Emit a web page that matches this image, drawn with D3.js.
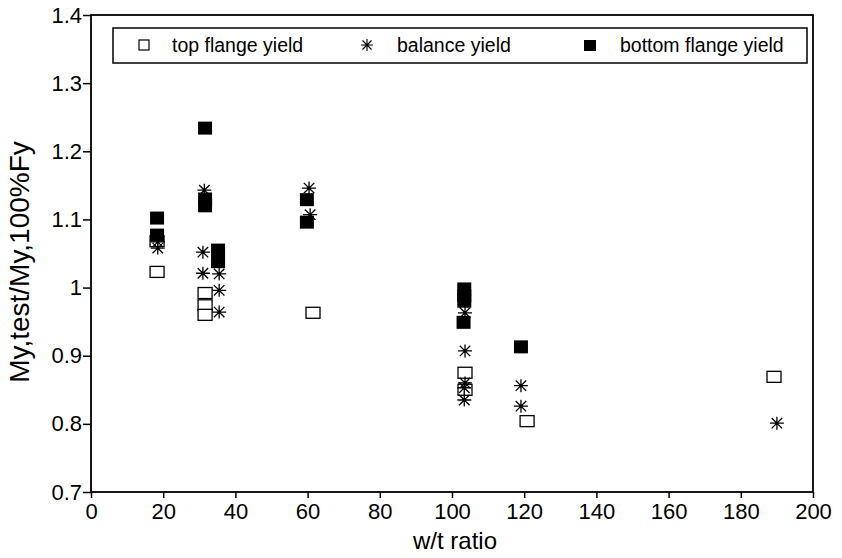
<!DOCTYPE html>
<html>
<head>
<meta charset="utf-8">
<script src="https://cdn.jsdelivr.net/npm/d3@7"></script>
<style>
  body { margin: 0; background: #fff; }
  svg { font-family: "Liberation Sans", Arial, sans-serif; }
</style>
</head>
<body>
<div id="chart"></div>
<script>
// data: [w/t ratio, My,test/My,100%Fy]
const topFlange = [
    [18.3, 1.068], [18.3, 1.023],
    [31.6, 0.992], [31.6, 0.974], [31.6, 0.960],
    [61.5, 0.963],
    [103.6, 0.875], [103.6, 0.850],
    [120.8, 0.804],
    [189.2, 0.869]
];
const balance = [
    [18.5, 1.067], [18.5, 1.058],
    [31.4, 1.143], [31.0, 1.052], [31.0, 1.021],
    [35.5, 1.020], [35.5, 0.996], [35.5, 0.964],
    [60.4, 1.146], [60.7, 1.107],
    [103.6, 0.963], [103.6, 0.907], [103.6, 0.860], [103.4, 0.853], [103.4, 0.835],
    [119.1, 0.856], [119.1, 0.826],
    [190.0, 0.801]
];
const bottomFlange = [
    [18.3, 1.102], [18.3, 1.077],
    [31.6, 1.234], [31.6, 1.130], [31.6, 1.120],
    [35.2, 1.055], [35.2, 1.038],
    [59.8, 1.129], [59.8, 1.096],
    [103.4, 0.998], [103.4, 0.988], [103.4, 0.980], [103.2, 0.949],
    [119.1, 0.913]
];
const xTicks = [0, 20, 40, 60, 80, 100, 120, 140, 160, 180, 200];
const yTicks = [0.7, 0.8, 0.9, 1, 1.1, 1.2, 1.3, 1.4];
const legendLabels = ["top flange yield", "balance yield", "bottom flange yield"];

const W = 842, H = 558;
const margin = { top: 15, right: 29, bottom: 66, left: 91 };
const width = W - margin.left - margin.right;
const height = H - margin.top - margin.bottom;

const svg = d3.select("#chart").append("svg")
    .attr("width", W)
    .attr("height", H);

const g = svg.append("g")
    .attr("transform", `translate(${margin.left},${margin.top})`);

const x = d3.scaleLinear().domain([0, 200]).range([0, width]);
const y = d3.scaleLinear().domain([0.7, 1.4]).range([height, 0]);

// axes
const xAxis = g.append("g")
    .attr("transform", `translate(0,${height})`)
    .call(d3.axisBottom(x).tickValues(xTicks).tickSize(6).tickPadding(5).tickFormat(d3.format("d")));
const yAxis = g.append("g")
    .call(d3.axisLeft(y).tickValues(yTicks).tickSize(8).tickPadding(1).tickFormat(d => String(+d.toFixed(1))));

[xAxis, yAxis].forEach(a => {
    a.select(".domain").remove();
    a.selectAll("line").attr("stroke", "#000").attr("stroke-width", 1.5);
    a.selectAll("text").attr("fill", "#000").style("font-size", "22px");
});

// frame
g.append("rect")
    .attr("x", 0).attr("y", 0)
    .attr("width", width).attr("height", height)
    .attr("fill", "none")
    .attr("stroke", "#000")
    .attr("stroke-width", 1.8);

// axis labels
svg.append("text")
    .attr("x", 455)
    .attr("y", 549)
    .attr("text-anchor", "middle")
    .style("font-size", "24px")
    .text("w/t ratio");

svg.append("text")
    .attr("transform", "translate(29,262) rotate(-90)")
    .attr("text-anchor", "middle")
    .style("font-size", "28px")
    .text("My,test/My,100%Fy");

// marker drawers
function openSquare(sel, cx, cy) {
    sel.append("rect")
        .attr("x", cx - 7).attr("y", cy - 5.5)
        .attr("width", 14).attr("height", 11)
        .attr("fill", "#fff")
        .attr("stroke", "#000")
        .attr("stroke-width", 1.3);
}
function filledSquare(sel, cx, cy) {
    sel.append("rect")
        .attr("x", cx - 7).attr("y", cy - 6.5)
        .attr("width", 14).attr("height", 13)
        .attr("fill", "#000");
}
function star(sel, cx, cy) {
    const r = 7, ry = 6.5;
    const p = `M${cx - r},${cy}L${cx + r},${cy}` +
        `M${cx},${cy - ry}L${cx},${cy + ry}` +
        `M${cx - r * 0.75},${cy - ry * 0.8}L${cx + r * 0.75},${cy + ry * 0.8}` +
        `M${cx - r * 0.75},${cy + ry * 0.8}L${cx + r * 0.75},${cy - ry * 0.8}`;
    sel.append("path")
        .attr("d", p)
        .attr("stroke", "#000")
        .attr("stroke-width", 1.3)
        .attr("fill", "none");
}

const pts = g.append("g");
topFlange.forEach(d => openSquare(pts, x(d[0]), y(d[1])));
bottomFlange.forEach(d => filledSquare(pts, x(d[0]), y(d[1])));
balance.forEach(d => star(pts, x(d[0]), y(d[1])));

// legend
const lg = svg.append("g");
lg.append("rect")
    .attr("x", 113).attr("y", 28)
    .attr("width", 694).attr("height", 35)
    .attr("fill", "#fff")
    .attr("stroke", "#000")
    .attr("stroke-width", 1.5);

// open square
lg.append("rect")
    .attr("x", 139).attr("y", 40).attr("width", 10).attr("height", 10)
    .attr("fill", "#fff").attr("stroke", "#000").attr("stroke-width", 1.2);
// star
const sx = 367, sy = 45;
lg.append("path")
    .attr("d", `M${sx - 6},${sy}L${sx + 6},${sy}M${sx},${sy - 6}L${sx},${sy + 6}` +
        `M${sx - 4.5},${sy - 4.5}L${sx + 4.5},${sy + 4.5}M${sx - 4.5},${sy + 4.5}L${sx + 4.5},${sy - 4.5}`)
    .attr("stroke", "#000").attr("stroke-width", 1.1).attr("fill", "none");
// filled square
lg.append("rect")
    .attr("x", 584).attr("y", 40).attr("width", 12).attr("height", 11)
    .attr("fill", "#000");

[172, 397, 620].forEach((tx, i) => {
    lg.append("text")
        .attr("x", tx)
        .attr("y", 52)
        .style("font-size", "19.5px")
        .text(legendLabels[i]);
});
</script>
</body>
</html>
